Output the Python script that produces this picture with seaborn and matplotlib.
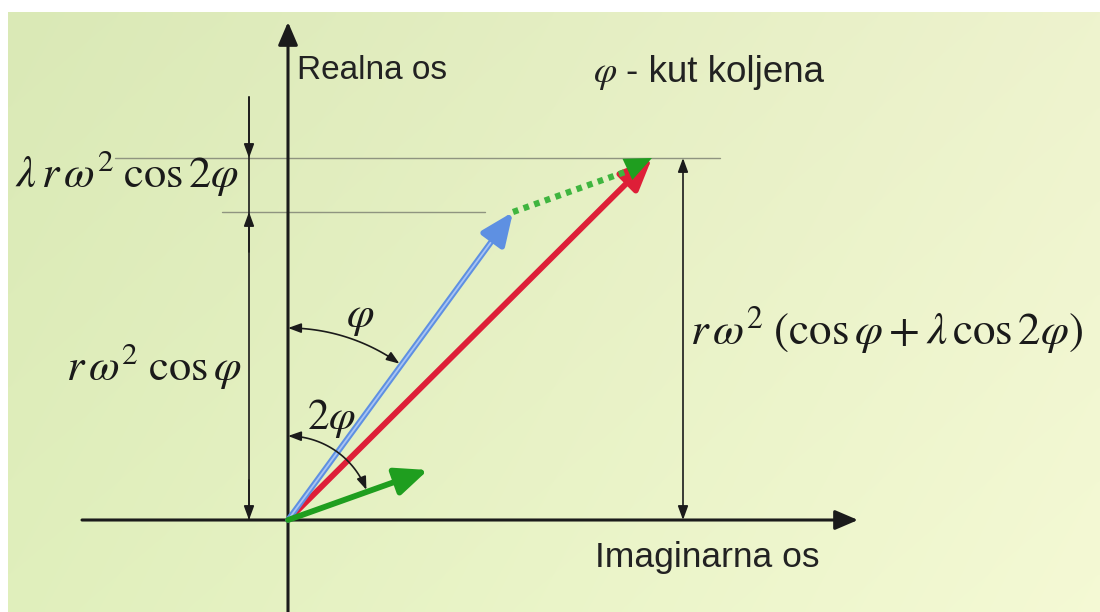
import numpy as np
import matplotlib
matplotlib.use('Agg')
import matplotlib.pyplot as plt
import seaborn as sns
import pandas as pd
from matplotlib.patches import FancyArrowPatch
from matplotlib.path import Path

# Vector diagram of the crank mechanism acceleration (values read in picture pixels,
# origin at the crank pivot, y upwards)
vec_names = ['rw2_cos', 'lam_cos2', 'sum']
vec_x = [225, 140, 364]
vec_y = [308, 50, 362]
vec_colors = ['#5e90e2', '#1f9e1f', '#de1f38']

phi_deg = 35.5        # angle phi marked by the arc
two_phi_deg = 69.0    # angle 2phi marked by the arc
phi_radius = 192
two_phi_radius = 84

# guide lines (level, x start, x end)
guide_levels = [362, 308]
guide_x0 = [-173, -66]
guide_x1 = [432, 197]

# dimension lines
left_dim_x = -39
left_dim_top = 423
right_dim_x = 395

labels_sans = ['Realna os', '- kut koljena', 'Imaginarna os']

sns.set_theme(style='white')
plt.rcParams['font.family'] = ['Liberation Sans', 'DejaVu Sans']
plt.rcParams['mathtext.fontset'] = 'stix'

fig = plt.figure(figsize=(11, 6.12), dpi=100, facecolor='white')
ax = fig.add_axes([0, 0, 1, 1])
ax.set_xlim(-288, 812)
ax.set_ylim(-92, 520)
ax.set_axis_off()

# soft yellow-green background
h, w = 120, 220
t = np.linspace(0, 1, w)[None, :]
s = np.linspace(0, 1, h)[:, None]
left = np.array([218, 233, 182]) / 255
right = np.array([238, 243, 206]) / 255
bg = left[None, None, :] + (right - left)[None, None, :] * t[..., None] + 0.025 * s[..., None]
bg = np.clip(bg, 0, 1)
ax.imshow(bg, extent=(-280, 812, -92, 508), aspect='auto', zorder=0, interpolation='bicubic')

ink = '#1b1b1b'
thin = '#8f9480'

# main axes
ax.annotate('', xy=(570, 0), xytext=(-206, 0),
            arrowprops=dict(arrowstyle='-|>,head_length=0.7,head_width=0.3', lw=2.2,
                            color=ink, mutation_scale=20, shrinkA=0, shrinkB=0), zorder=3)
ax.annotate('', xy=(0, 498), xytext=(0, -92),
            arrowprops=dict(arrowstyle='-|>,head_length=0.7,head_width=0.3', lw=2.2,
                            color=ink, mutation_scale=20, shrinkA=0, shrinkB=0), zorder=3)

# thin guide lines
guides = pd.DataFrame({
    'x': guide_x0 + guide_x1,
    'y': guide_levels + guide_levels,
    'g': [0, 1, 0, 1],
})
sns.lineplot(data=guides, x='x', y='y', units='g', estimator=None, color=thin,
             lw=1.0, ax=ax, zorder=2, sort=False)

# left dimension line
dim_style = dict(arrowstyle='-|>,head_length=0.6,head_width=0.22', lw=1.2, color=ink,
                 mutation_scale=14, shrinkA=0, shrinkB=0)
ax.plot([left_dim_x, left_dim_x], [left_dim_top, 0], color=ink, lw=1.2, zorder=3)
ax.annotate('', xy=(left_dim_x, guide_levels[0]), xytext=(left_dim_x, left_dim_top),
            arrowprops=dim_style, zorder=3)
ax.annotate('', xy=(left_dim_x, guide_levels[1]), xytext=(left_dim_x, guide_levels[1] - 40),
            arrowprops=dim_style, zorder=3)
ax.annotate('', xy=(left_dim_x, 0), xytext=(left_dim_x, 40),
            arrowprops=dim_style, zorder=3)

# right dimension line
ax.annotate('', xy=(right_dim_x, guide_levels[0]), xytext=(right_dim_x, 0),
            arrowprops=dict(dim_style, arrowstyle='<|-|>,head_length=0.6,head_width=0.22'),
            zorder=3)

# vectors
head = '-|>,head_length=0.65,head_width=0.28'
ax.annotate('', xy=(vec_x[2], vec_y[2]), xytext=(0, 0),
            arrowprops=dict(arrowstyle=head, lw=4.2, color=vec_colors[2],
                            mutation_scale=30, shrinkA=0, shrinkB=0), zorder=4)
ax.annotate('', xy=(vec_x[0], vec_y[0]), xytext=(0, 0),
            arrowprops=dict(arrowstyle=head, lw=4.2, color=vec_colors[0],
                            mutation_scale=30, shrinkA=0, shrinkB=0), zorder=5)
ax.plot([0, vec_x[0] * 0.9], [0, vec_y[0] * 0.9], color='#a9c4f3', lw=1.3, zorder=5)
ax.annotate('', xy=(vec_x[1], vec_y[1]), xytext=(0, 0),
            arrowprops=dict(arrowstyle=head, lw=4.2, color=vec_colors[1],
                            mutation_scale=30, shrinkA=0, shrinkB=0), zorder=5)

# dotted shifted green vector from blue tip to red tip
ax.plot([vec_x[0], vec_x[0] + vec_x[1] * 0.85], [vec_y[0], vec_y[0] + vec_y[1] * 0.85],
        color='#3fb53f', lw=4.5, ls=(0, (0.9, 0.9)), zorder=5)
ax.annotate('', xy=(vec_x[2], vec_y[2]), xytext=(vec_x[0] + vec_x[1] * 0.7, vec_y[0] + vec_y[1] * 0.7),
            arrowprops=dict(arrowstyle=head, lw=0, color=vec_colors[1],
                            mutation_scale=30, shrinkA=0, shrinkB=0), zorder=6)


# angle arcs
def angle_arc(radius, end_deg):
    th = np.radians(np.linspace(0, end_deg, 40))
    pts = np.column_stack([radius * np.sin(th), radius * np.cos(th)])
    p = FancyArrowPatch(path=Path(pts), arrowstyle='<|-|>,head_length=0.6,head_width=0.22',
                        mutation_scale=13, lw=1.2, color=ink, zorder=6)
    ax.add_patch(p)


angle_arc(phi_radius, phi_deg)
angle_arc(two_phi_radius, two_phi_deg)

# texts
ax.text(9, 441, labels_sans[0], fontsize=24, color='#222222', va='baseline', ha='left')
ax.text(305, 438, r'$\varphi$', fontsize=27, color='#222222', va='baseline', ha='left')
ax.text(338, 438, labels_sans[1], fontsize=26.5, color='#222222', va='baseline', ha='left')
ax.text(307, -47, labels_sans[2], fontsize=25.5, color='#222222', va='baseline', ha='left')

ax.text(-273, 333, r'$\lambda\, r\,\omega^2\;\mathrm{cos}\,2\varphi$', fontsize=32,
        color='#1a1a1a', va='baseline', ha='left')
ax.text(-222, 140, r'$r\,\omega^2\;\mathrm{cos}\,\varphi$', fontsize=32,
        color='#1a1a1a', va='baseline', ha='left')
ax.text(402, 175, r'$r\,\omega^2\;(\mathrm{cos}\,\varphi + \lambda\,\mathrm{cos}\,2\varphi)$',
        fontsize=32.5, color='#1a1a1a', va='baseline', ha='left')
ax.text(72, 202, r'$\varphi$', fontsize=32, color='#1a1a1a', va='center', ha='center')
ax.text(43, 102, r'$2\varphi$', fontsize=31, color='#1a1a1a', va='center', ha='center')

fig.savefig('out.png', dpi=100, facecolor='white')
